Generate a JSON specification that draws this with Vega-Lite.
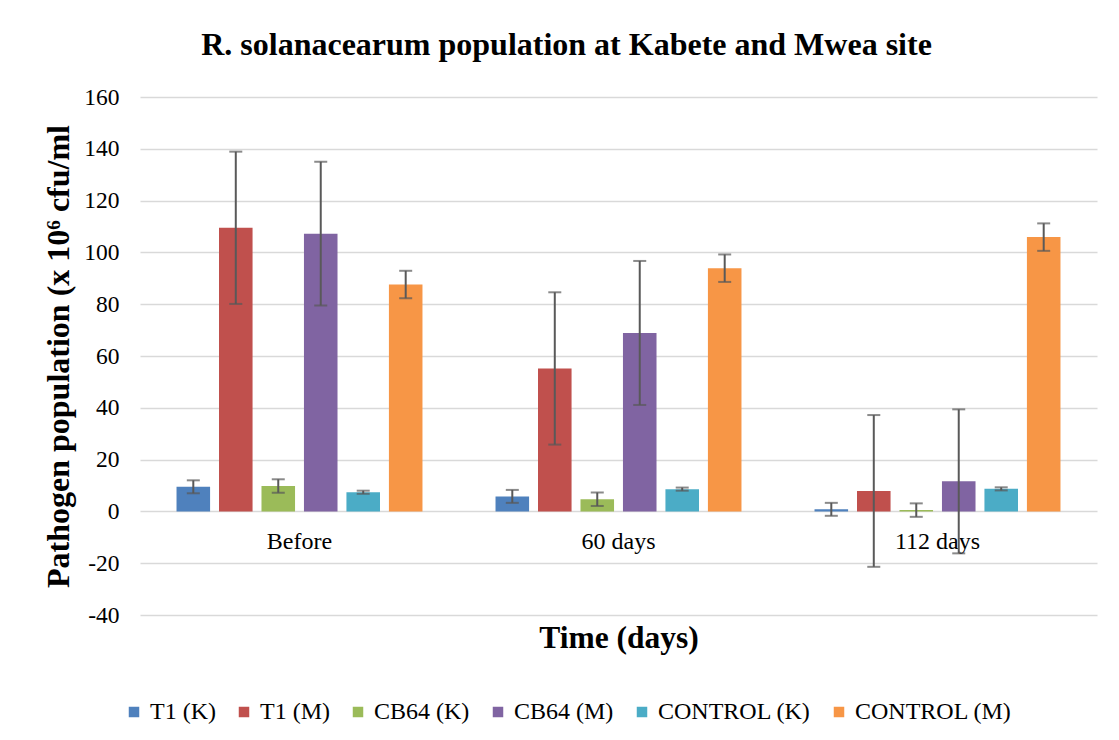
{
  "$schema": "https://vega.github.io/schema/vega-lite/v6.json",
  "autosize": {"type": "none"},
  "width": 957,
  "height": 518,
  "padding": {"left": 140, "top": 97, "right": 22, "bottom": 125},
  "background": "white",
  "title": {
    "text": "R. solanacearum population at Kabete and Mwea site",
    "font": "Liberation Serif",
    "fontSize": 32,
    "fontWeight": "bold",
    "color": "#000000",
    "anchor": "middle",
    "dx": -52,
    "offset": 23
  },
  "data": {
    "values": [
      {"time": "Before", "series": "T1 (K)", "value": 9.5, "lo": 7.0, "hi": 12.0},
      {"time": "Before", "series": "T1 (M)", "value": 109.5, "lo": 80.1, "hi": 138.9},
      {"time": "Before", "series": "CB64 (K)", "value": 9.8, "lo": 7.2, "hi": 12.4},
      {"time": "Before", "series": "CB64 (M)", "value": 107.2, "lo": 79.5, "hi": 135.0},
      {"time": "Before", "series": "CONTROL (K)", "value": 7.4, "lo": 6.8, "hi": 8.0},
      {"time": "Before", "series": "CONTROL (M)", "value": 87.6, "lo": 82.3, "hi": 92.9},
      {"time": "60 days", "series": "T1 (K)", "value": 5.8, "lo": 3.3, "hi": 8.3},
      {"time": "60 days", "series": "T1 (M)", "value": 55.2, "lo": 25.8, "hi": 84.6},
      {"time": "60 days", "series": "CB64 (K)", "value": 4.7, "lo": 2.1, "hi": 7.3},
      {"time": "60 days", "series": "CB64 (M)", "value": 68.9, "lo": 41.1, "hi": 96.7},
      {"time": "60 days", "series": "CONTROL (K)", "value": 8.6, "lo": 8.0, "hi": 9.2},
      {"time": "60 days", "series": "CONTROL (M)", "value": 93.9, "lo": 88.6, "hi": 99.2},
      {"time": "112 days", "series": "T1 (K)", "value": 0.8, "lo": -1.7, "hi": 3.3},
      {"time": "112 days", "series": "T1 (M)", "value": 7.9, "lo": -21.4, "hi": 37.2},
      {"time": "112 days", "series": "CB64 (K)", "value": 0.5, "lo": -2.1, "hi": 3.1},
      {"time": "112 days", "series": "CB64 (M)", "value": 11.6, "lo": -16.2, "hi": 39.4},
      {"time": "112 days", "series": "CONTROL (K)", "value": 8.7, "lo": 8.1, "hi": 9.3},
      {"time": "112 days", "series": "CONTROL (M)", "value": 105.9, "lo": 100.6, "hi": 111.2}
    ]
  },
  "encoding": {
    "x": {
      "field": "time",
      "type": "nominal",
      "sort": ["Before", "60 days", "112 days"],
      "scale": {"paddingInner": 0.229, "paddingOuter": 0.1145},
      "axis": {
        "title": "Time (days)",
        "titleFont": "Liberation Serif",
        "titleFontSize": 31.5,
        "titleFontWeight": "bold",
        "titleColor": "#000000",
        "titleY": 136,
        "titleBaseline": "alphabetic",
        "labelAngle": 0,
        "labelFont": "Liberation Serif",
        "labelFontSize": 24,
        "labelColor": "#000000",
        "labelPadding": 18,
        "domain": false,
        "ticks": false,
        "grid": false,
        "offset": -103.6
      }
    },
    "xOffset": {
      "field": "series",
      "type": "nominal",
      "sort": ["T1 (K)", "T1 (M)", "CB64 (K)", "CB64 (M)", "CONTROL (K)", "CONTROL (M)"],
      "scale": {"paddingInner": 0.21, "paddingOuter": 0}
    }
  },
  "layer": [
    {
      "mark": {"type": "bar"},
      "encoding": {
        "y": {
          "field": "value",
          "type": "quantitative",
          "scale": {"domain": [-40, 160], "nice": false, "zero": false},
          "axis": {
            "values": [-40, -20, 0, 20, 40, 60, 80, 100, 120, 140, 160],
            "labelExpr": "toString(datum.value)",
            "title": "Pathogen population (x 10⁶ cfu/ml",
            "titleFont": "Liberation Serif",
            "titleFontSize": 32,
            "titleFontWeight": "bold",
            "titleColor": "#000000",
            "titleAngle": 270,
            "titleX": -82,
            "titleBaseline": "middle",
            "labelFont": "Liberation Serif",
            "labelFontSize": 23.5,
            "labelColor": "#000000",
            "labelPadding": 21,
            "domain": false,
            "ticks": false,
            "grid": true,
            "gridColor": "#D9D9D9",
            "gridWidth": 1.5
          }
        },
        "color": {
          "field": "series",
          "type": "nominal",
          "sort": ["T1 (K)", "T1 (M)", "CB64 (K)", "CB64 (M)", "CONTROL (K)", "CONTROL (M)"],
          "scale": {
            "domain": ["T1 (K)", "T1 (M)", "CB64 (K)", "CB64 (M)", "CONTROL (K)", "CONTROL (M)"],
            "range": ["#4F81BD", "#C0504D", "#9BBB59", "#8064A2", "#4BACC6", "#F79646"]
          },
          "legend": {
            "title": null,
            "orient": "none",
            "direction": "horizontal",
            "legendX": -18,
            "legendY": 603,
            "symbolType": "square",
            "symbolSize": 110,
            "symbolStrokeWidth": 0,
            "labelFont": "Liberation Serif",
            "labelFontSize": 24,
            "labelColor": "#000000",
            "labelOffset": 4,
            "columnPadding": 16
          }
        }
      }
    },
    {
      "mark": {"type": "rule", "color": "#595959", "strokeWidth": 2},
      "encoding": {
        "y": {"field": "lo", "type": "quantitative"},
        "y2": {"field": "hi"}
      }
    },
    {
      "mark": {"type": "tick", "color": "#595959", "thickness": 2, "size": 13},
      "encoding": {
        "y": {"field": "lo", "type": "quantitative"}
      }
    },
    {
      "mark": {"type": "tick", "color": "#595959", "thickness": 2, "size": 13},
      "encoding": {
        "y": {"field": "hi", "type": "quantitative"}
      }
    }
  ],
  "config": {
    "view": {"stroke": null}
  }
}
